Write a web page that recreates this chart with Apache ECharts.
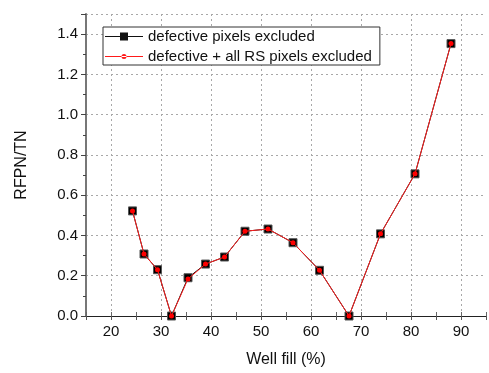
<!DOCTYPE html>
<html><head><meta charset="utf-8">
<script src="https://cdn.jsdelivr.net/npm/echarts@6/dist/echarts.min.js"></script>
<style>html,body{margin:0;padding:0;background:#fff}#c{width:489px;height:373px}</style>
</head><body><div id="c"></div>
<script>
const wellFill = [24.3, 26.6, 29.3, 32.1, 35.4, 38.9, 42.7, 46.8, 51.4, 56.4, 61.7, 67.6, 73.9, 80.8, 88.0];
const defectiveExcluded = [0.522, 0.308, 0.230, 0.0, 0.190, 0.258, 0.293, 0.421, 0.432, 0.364, 0.227, 0.0, 0.408, 0.706, 1.353];
const allRSExcluded = [0.522, 0.308, 0.230, 0.0, 0.184, 0.258, 0.293, 0.421, 0.432, 0.364, 0.227, 0.0, 0.408, 0.706, 1.353];
const seriesNames = ['defective pixels excluded', 'defective + all RS pixels excluded'];
const xLabel = 'Well fill (%)';
const yLabel = 'RFPN/TN';

const pairs = (xs, ys) => xs.map((x, i) => [x, ys[i]]);
const font = 'Liberation Sans, Arial, sans-serif';
const chart = echarts.init(document.getElementById('c'), null, {renderer: 'canvas'});
const T = 'rgba(0,0,0,0)';
const G = '#a8a8a8';
const iconSquare = 'path://M0,0M38,10M0,4.5H38V5.5H0Z M15,1H23V9H15Z';
const iconDot = 'path://M0,0M38,10M0,4.5H38V5.5H0Z M16.5,5a2.5,2.5 0 1,0 5,0a2.5,2.5 0 1,0 -5,0Z';
chart.setOption({
  animation: false,
  grid: {left: 86, right: -3.4, top: 14, bottom: 57},
  legend: {
    left: 103, top: 27, orient: 'vertical',
    backgroundColor: '#fff', borderColor: '#333', borderWidth: 1,
    padding: [2, 8, 1, 2], itemGap: 5, itemWidth: 38, itemHeight: 10,
    textStyle: {fontFamily: font, fontSize: 15, color: '#111', lineHeight: 15},
    data: [
      {name: seriesNames[0], icon: iconSquare, itemStyle: {color: '#111', borderWidth: 0}},
      {name: seriesNames[1], icon: iconDot, itemStyle: {color: '#ff1a1a', borderWidth: 0}}
    ]
  },
  xAxis: [{
    type: 'value', min: 15, max: 95, interval: 5,
    name: xLabel, nameLocation: 'middle', nameGap: 36,
    nameTextStyle: {fontFamily: font, fontSize: 16, color: '#111'},
    axisLine: {onZero: false, lineStyle: {color: '#222', width: 1}},
    axisTick: {show: true, length: 4, lineStyle: {color: '#555'}},
    axisLabel: {fontFamily: font, fontSize: 15, color: '#111', margin: 8,
      formatter: v => (v % 10 === 0 ? String(v) : '')},
    splitLine: {show: true, lineStyle: {color: [T, G], type: [2, 3], width: 1}}
  }, {
    type: 'value', min: 15, max: 95, interval: 5, position: 'top',
    axisLine: {show: true, lineStyle: {color: '#222', width: 1}},
    axisTick: {show: true, length: 4, lineStyle: {color: '#666', width: 1}},
    axisLabel: {show: false},
    splitLine: {show: false}
  }],
  yAxis: [{
    type: 'value', min: 0, max: 1.5, interval: 0.2,
    name: yLabel, nameLocation: 'middle', nameGap: 56, nameRotate: 90,
    nameTextStyle: {fontFamily: font, fontSize: 16, color: '#111'},
    axisLine: {show: true, lineStyle: {color: '#777', width: 2}},
    axisTick: {show: true, length: 5, lineStyle: {color: '#444'}},
    minorTick: {show: true, splitNumber: 2, length: 3, lineStyle: {color: '#444'}},
    axisLabel: {fontFamily: font, fontSize: 15, color: '#111', margin: 8, showMaxLabel: false,
      formatter: v => v.toFixed(1)},
    splitLine: {show: true, lineStyle: {color: G, type: [2, 3], width: 1}}
  }],
  series: [{
    name: seriesNames[0], type: 'line', data: pairs(wellFill, defectiveExcluded),
    xAxisIndex: 0, yAxisIndex: 0,
    symbol: 'rect', symbolSize: 8,
    itemStyle: {color: '#000', borderColor: '#555', borderWidth: 1},
    lineStyle: {color: '#000', width: 1}, z: 3
  }, {
    name: seriesNames[1], type: 'line', data: pairs(wellFill, allRSExcluded),
    xAxisIndex: 0, yAxisIndex: 0,
    symbol: 'circle', symbolSize: 5,
    itemStyle: {color: '#ff0000', borderWidth: 0},
    lineStyle: {color: '#ff2020', width: 1}, z: 4
  }]
});
</script></body></html>
